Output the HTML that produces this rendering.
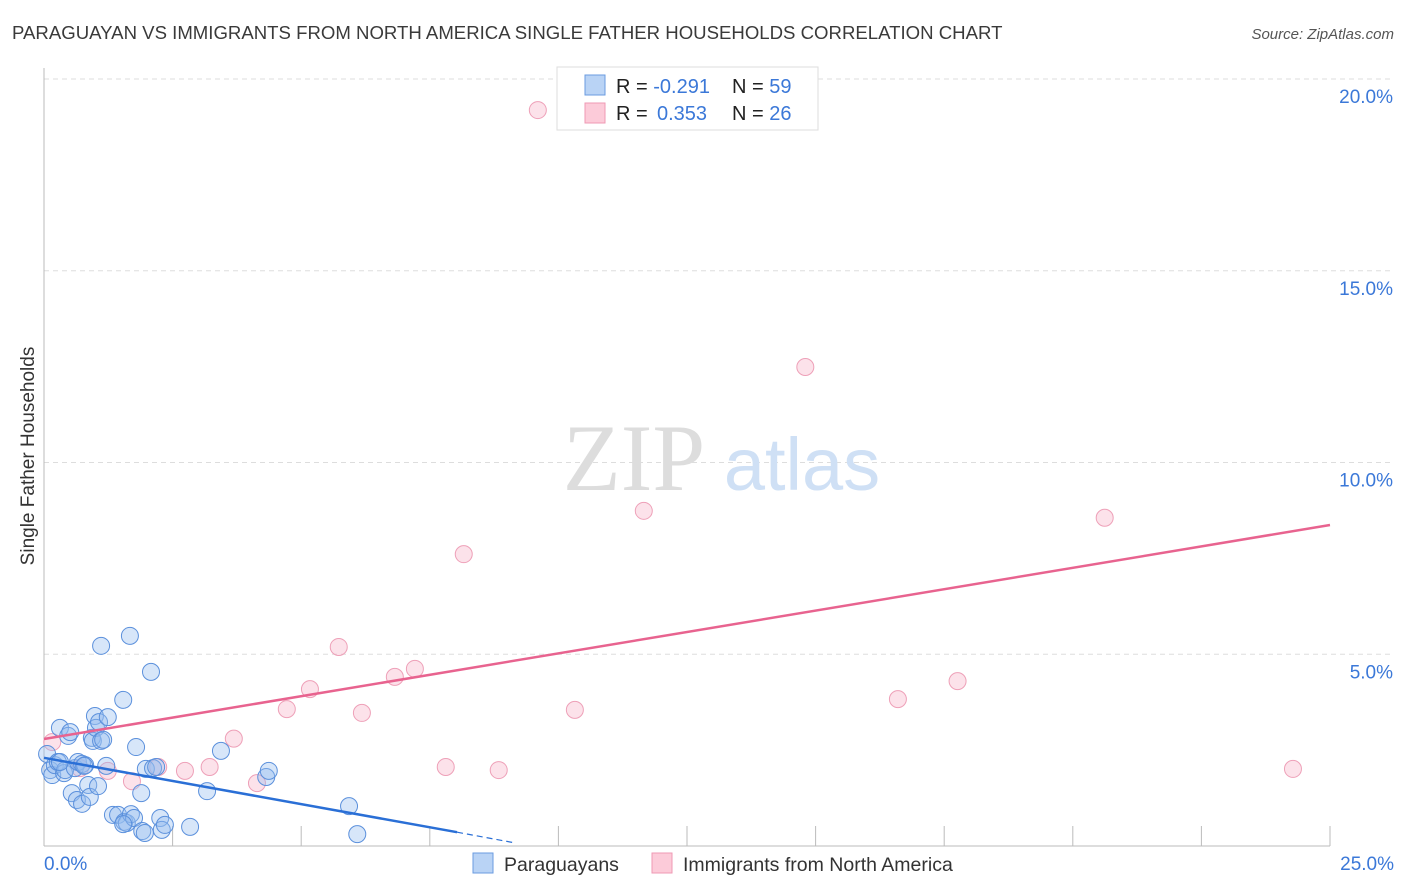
<!DOCTYPE html>
<html><head><meta charset="utf-8"><style>
body{margin:0;background:#fff;font-family:"Liberation Sans",sans-serif;}
svg{display:block}
</style></head><body>
<svg width="1406" height="892">
<text x="12" y="39" font-size="18.6" fill="#3a3a3a">PARAGUAYAN VS IMMIGRANTS FROM NORTH AMERICA SINGLE FATHER HOUSEHOLDS CORRELATION CHART</text>
<text x="1394" y="39" font-size="15" fill="#555" font-style="italic" text-anchor="end">Source: ZipAtlas.com</text>
<g id="grid"></g>
<text x="634" y="490" font-size="95" fill="#ddd" font-family="Liberation Serif,serif" text-anchor="middle">ZIP</text>
<text x="802" y="490" font-size="74" fill="#cfe0f5" text-anchor="middle">atlas</text>
<g id="marks"></g>
<text x="34" y="456" font-size="19" fill="#333" transform="rotate(-90 34 456)" text-anchor="middle">Single Father Households</text>
<text x="44" y="870" font-size="19" fill="#3b78d8">0.0%</text>
<text x="1394" y="870" font-size="19" fill="#3b78d8" text-anchor="end">25.0%</text>
<rect x="557" y="67" width="261" height="63" fill="#fff" stroke="#ddd"/>
<rect x="585" y="75" width="20" height="20" fill="#b9d3f5" stroke="#6a9be0"/>
<rect x="585" y="103" width="20" height="20" fill="#fccbd9" stroke="#ef9ab4"/>
<text x="616" y="93" font-size="20" fill="#222">R = <tspan fill="#3b78d8">-0.291</tspan><tspan x="732">N = </tspan><tspan fill="#3b78d8">59</tspan></text>
<text x="616" y="120" font-size="20" fill="#222">R = <tspan x="657" fill="#3b78d8">0.353</tspan><tspan x="732">N = </tspan><tspan fill="#3b78d8">26</tspan></text>
<rect x="473" y="853" width="20" height="20" fill="#b9d3f5" stroke="#6a9be0"/>
<text x="504" y="871" font-size="19.5" fill="#333">Paraguayans</text>
<rect x="652" y="853" width="20" height="20" fill="#fccbd9" stroke="#ef9ab4"/>
<text x="683" y="871" font-size="19.5" fill="#333">Immigrants from North America</text>
</svg>
<script>
const yTicks=[5,10,15,20];
const xTicks=[2.5,5,7.5,10,12.5,15,17.5,20,22.5,25];
const blueX=[0.06,0.12,0.16,0.21,0.27,0.31,0.39,0.41,0.47,0.51,0.54,0.6,0.64,0.66,0.74,0.74,0.8,0.86,0.89,0.93,0.95,0.99,1.01,1.05,1.07,1.11,1.15,1.21,1.24,1.34,1.44,1.54,1.56,1.61,1.69,1.75,1.79,1.89,1.91,1.96,1.98,2.08,2.12,2.18,2.26,2.29,2.35,2.84,3.17,3.44,4.32,4.37,5.93,6.09,1.11,1.67,1.54,0.31,0.78];
const blueY=[2.40,1.98,1.85,2.11,2.19,3.08,1.90,1.98,2.87,2.97,1.38,2.03,1.20,2.19,2.14,1.10,2.11,1.59,1.28,2.82,2.74,3.39,3.08,1.56,3.23,2.74,2.77,2.09,3.36,0.81,0.81,3.81,0.63,0.60,0.83,0.73,2.58,1.38,0.39,0.34,2.01,4.54,2.03,2.06,0.73,0.42,0.55,0.50,1.43,2.48,1.80,1.96,1.04,0.31,5.22,5.48,0.57,2.19,2.09];
const pinkX=[9.60,14.80,11.66,8.16,20.62,5.73,7.21,6.82,5.17,4.72,6.18,10.32,16.60,17.76,3.69,7.81,8.84,24.28,3.22,2.74,2.22,1.71,1.24,4.14,0.16,0.70];
const pinkY=[19.19,12.49,8.74,7.61,8.56,5.19,4.62,4.41,4.09,3.57,3.47,3.55,3.83,4.30,2.80,2.06,1.98,2.01,2.06,1.96,2.06,1.69,1.96,1.64,2.71,2.03];
const blueLine=[[0,2.3],[8.03,0.36]], blueDash=[[8.03,0.36],[9.16,0.08]];
const pinkLine=[[0,2.79],[25,8.37]];
const X=v=>44+v/25*1286, Y=v=>846-v/20*767;
const NS='http://www.w3.org/2000/svg';
function mk(t,a,p){const e=document.createElementNS(NS,t);for(const k in a)e.setAttribute(k,a[k]);p.appendChild(e);return e;}
const g=document.getElementById('grid'), m=document.getElementById('marks');
yTicks.forEach(v=>{
 const l=mk('line',{x1:44,x2:1394,y1:Y(v),y2:Y(v),stroke:'#ddd','stroke-dasharray':'5,4'},g);
 
 
 const t=mk('text',{x:1393,y:Y(v)+24,'font-size':19,fill:'#3b78d8','text-anchor':'end'},g);
 t.textContent=v.toFixed(1)+'%';
 
 
});
const ax=mk('line',{x1:44,x2:1330,y1:846,y2:846,stroke:'#bbb'},g);


const ay=mk('line',{x1:44,x2:44,y1:68,y2:846,stroke:'#bbb'},g);


xTicks.forEach(v=>{
 const l=mk('line',{x1:X(v),x2:X(v),y1:826,y2:846,stroke:'#bbb'},g);
 
 
});
pinkX.forEach((v,i)=>{
 const c=mk('circle',{cx:X(v),cy:Y(pinkY[i]),r:8.5,fill:'rgba(248,180,200,0.38)',stroke:'#eea0b8','stroke-width':1},m);
 
 
});
blueX.forEach((v,i)=>{
 const c=mk('circle',{cx:X(v),cy:Y(blueY[i]),r:8.5,fill:'rgba(150,190,240,0.38)',stroke:'#5b90dc','stroke-width':1},m);
 
 
});
const pl=mk('line',{x1:X(pinkLine[0][0]),y1:Y(pinkLine[0][1]),x2:X(pinkLine[1][0]),y2:Y(pinkLine[1][1]),stroke:'#e8638f','stroke-width':2.5},m);


const bl=mk('line',{x1:X(blueLine[0][0]),y1:Y(blueLine[0][1]),x2:X(blueLine[1][0]),y2:Y(blueLine[1][1]),stroke:'#2a6fd6','stroke-width':2.5},m);


const bd=mk('line',{x1:X(blueDash[0][0]),y1:Y(blueDash[0][1]),x2:X(blueDash[1][0]),y2:Y(blueDash[1][1]),stroke:'#2a6fd6','stroke-width':1.2,'stroke-dasharray':'6,4'},m);


</script>
</body></html>
